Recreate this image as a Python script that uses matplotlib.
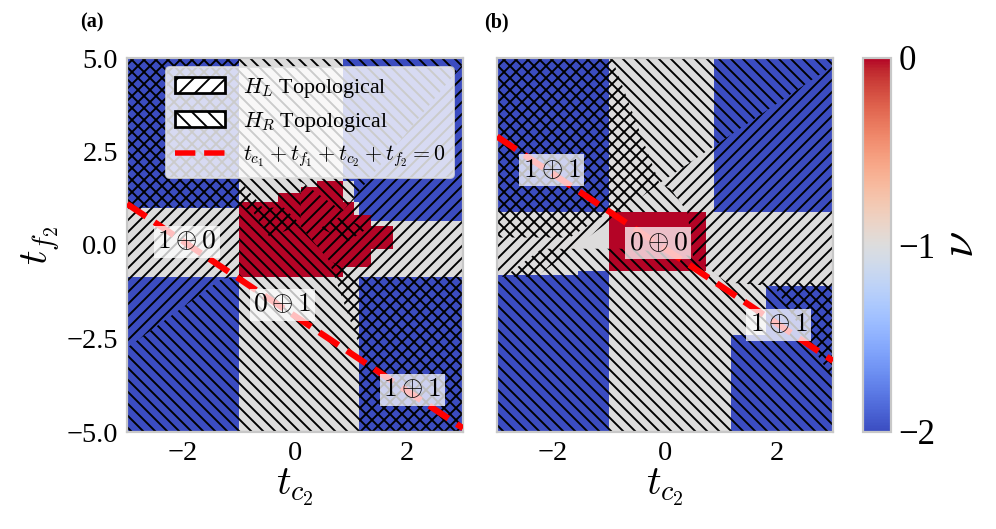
import numpy as np
import matplotlib
matplotlib.use("Agg")
import matplotlib.pyplot as plt
from matplotlib.patches import Polygon, Patch
from matplotlib.lines import Line2D
from matplotlib.colors import Normalize

DPI = 144
K = 132 / DPI   # keeps text/line pixel sizes constant


def pt(v):
    return v * K


plt.rcParams.update({
    "font.family": ["Liberation Serif", "DejaVu Serif"],
    "mathtext.fontset": "cm",
    "hatch.linewidth": 0.95,
    "hatch.color": "black",
})

# ---------------- data ----------------
NU = {"B": -2.0, "G": -1.0, "R": 0.0}   # winding number nu per cell letter

# panel (a): nu on a non-uniform grid (rows listed top -> bottom)
a_x_edges = [-3, -1, -0.3, 0.1, 0.4, 0.85, 1.05, 1.15, 1.35, 1.75, 3]
a_y_edges = [-5, -0.85, -0.6, -0.1, 0.5, 0.65, 0.8, 1.0, 1.15, 1.4, 1.55, 1.7, 5]
a_rows = [
    "BGGGGBBBBB",
    "BGGGRGBBBB",
    "BGGRRGBBBB",
    "BGRRRGBBBB",
    "BRRRRRGBBB",
    "GRRRRRGBBB",
    "GRRRRRRRBB",
    "GRRRRRRRGG",
    "GRRRRRRRRG",
    "GRRRRRRRGG",
    "GRRRRGGGGG",
    "BGGGGGGBBB",
]

# panel (b)
b_x_edges = [-3, -1.55, -1, 0.73, 0.88, 1.18, 1.8, 3]
b_y_edges = [-5, -2.4, -1.1, -0.8, -0.7, 0.88, 5]
b_rows = [
    "BBGGBBB",
    "GGRGGGG",
    "GBGGGGG",
    "BBGGGGG",
    "BBGGGGB",
    "BBGGGBB",
]

# topological regions (polygons in (t_c2, t_f2))
a_HL = [
    [(-3, 5), (-1, 5), (-1, 1.75), (-0.55, 0.95), (-1, 0.95), (-1, -0.85), (-1.3, -0.9), (-3, -2.75)],
    [(0.1, 1.7), (0.85, 0.9), (3, 4.85), (3, -5), (1.15, -5), (1.15, -2.7), (0.6, -0.4), (0.1, 0.5)],
    [(-0.8, 1.0), (-0.2, 1.0), (0.1, 0.55), (-0.45, 0.2)],
]
a_HR = [
    [(-3, 5), (3, 5), (3, 4.85), (0.85, 0.9), (0.1, 1.7), (0.1, 0.5), (-1, 0.5), (-1, 1.0), (-3, 1.0)],
    [(-3, -5), (-3, -2.75), (-1.3, -0.9), (-1, -0.85), (-1, 0.5), (0.1, 0.5), (0.6, -0.4),
     (1.15, -0.85), (3, -0.85), (3, -5)],
    [(0.45, 0.45), (0.95, 0.1), (1.3, 0.45), (0.8, 0.75)],
]
b_HL = [
    [(-3, 5), (-0.95, 5), (-0.1, 1.65), (-2.3, -0.85), (-3, -0.85)],
    [(-0.1, 1.65), (3, 4.8), (3, -3.6), (1.95, -1.1), (1.1, -1.0), (0.5, -0.3), (0.4, 0.88), (0.1, 1.5)],
]
b_HR = [
    [(-3, 5), (3, 5), (3, 4.8), (-0.1, 1.65), (0.1, 1.5), (0.4, 0.88), (-1.0, 0.88), (-1.7, 0.2), (-3, 0.2)],
    [(-3, -5), (-3, -1.0), (-2.2, -0.1), (-0.6, -0.1), (0.5, -0.3), (1.1, -1.0), (3, -1.0), (3, -5)],
]

# t_c1 + t_f1 for the dashed line t_c1+t_f1+t_c2+t_f2 = 0
a_tc1_tf1 = 1.9
b_tc1_tf1 = 0.1
line_tc2 = [-3, 3]

a_labels = [(-1.93, 0.08, r"$1\oplus0$"), (-0.23, -1.6, r"$0\oplus1$"), (2.1, -3.88, r"$1\oplus1$")]
b_labels = [(-2.02, 2.0, r"$1\oplus1$"), (-0.12, 0.05, r"$0\oplus0$"), (2.03, -2.14, r"$1\oplus1$")]

xticks = [-2, 0, 2]
yticks = [-5, -2.5, 0, 2.5, 5]
cbar_ticks = [0, -1, -2]

# ---------------- plot ----------------
W, H = 996, 529
fig = plt.figure(figsize=(W / DPI, H / DPI), dpi=DPI)
ax_a = fig.add_axes([127 / W, 97 / H, 336 / W, 374 / H])
ax_b = fig.add_axes([497 / W, 97 / H, 336 / W, 374 / H])
cax = fig.add_axes([863 / W, 97 / H, 28 / W, 374 / H])

cmap = plt.get_cmap("coolwarm")
norm = Normalize(-2, 0)
spine_col = "#c8c8c8"
HATCH_L = "////"
HATCH_R = "\\\\\\\\"


def field(rows):
    return np.array([[NU[c] for c in r] for r in rows[::-1]])


mesh = None
for ax, xe, ye, rows, HL, HR, s, labels in [
    (ax_a, a_x_edges, a_y_edges, a_rows, a_HL, a_HR, a_tc1_tf1, a_labels),
    (ax_b, b_x_edges, b_y_edges, b_rows, b_HL, b_HR, b_tc1_tf1, b_labels),
]:
    mesh = ax.pcolormesh(xe, ye, field(rows), cmap=cmap, norm=norm, shading="flat", zorder=1)
    for verts in HL:
        ax.add_patch(Polygon(verts, closed=True, facecolor="none", edgecolor="black",
                             lw=0, hatch=HATCH_L, zorder=2))
    for verts in HR:
        ax.add_patch(Polygon(verts, closed=True, facecolor="none", edgecolor="black",
                             lw=0, hatch=HATCH_R, zorder=2))
    xs = np.array(line_tc2, dtype=float)
    ax.plot(xs, -xs - s, color="red", ls="--", lw=pt(3.4), zorder=4)
    for tx, ty, txt in labels:
        ax.text(tx, ty, txt, ha="center", va="center", fontsize=pt(15), zorder=6,
                bbox=dict(boxstyle="square,pad=0.12", fc="white", ec="none", alpha=0.75))
    ax.set_xlim(-3, 3)
    ax.set_ylim(-5, 5)
    ax.set_xticks(xticks)
    ax.set_yticks(yticks)
    ax.tick_params(length=0, labelsize=pt(15.5), pad=pt(5))
    for sp in ax.spines.values():
        sp.set_edgecolor(spine_col)
        sp.set_linewidth(pt(1.2))
    ax.set_xlabel(r"$t_{c_2}$", fontsize=pt(22), labelpad=0)

ax_b.tick_params(labelleft=False)
ax_a.set_ylabel(r"$t_{f_2}$", fontsize=pt(22), labelpad=pt(2))

handles = [
    Patch(facecolor="white", edgecolor="black", hatch="///", lw=pt(1.5)),
    Patch(facecolor="white", edgecolor="black", hatch="\\\\\\", lw=pt(1.5)),
    Line2D([], [], color="red", ls="--", lw=pt(3)),
]
leg_labels = [r"$H_L$ Topological", r"$H_R$ Topological", r"$t_{c_1}+t_{f_1}+t_{c_2}+t_{f_2}=0$"]
leg = ax_a.legend(handles, leg_labels, loc="upper right", fontsize=pt(12), framealpha=0.8,
                  fancybox=True, handlelength=2.3, borderaxespad=0.4, labelspacing=0.45)
leg.get_frame().set_edgecolor("#dddddd")
leg.set_zorder(7)

cb = fig.colorbar(mesh, cax=cax, ticks=cbar_ticks)
cb.ax.tick_params(length=0, labelsize=pt(19), pad=pt(4))
cb.outline.set_edgecolor(spine_col)
cb.outline.set_linewidth(pt(1.2))
cb.set_label(r"$\nu$", fontsize=pt(26), labelpad=pt(2))

fig.text(80 / W, 1 - 22 / H, "(a)", fontsize=pt(11), fontweight="bold", va="center")
fig.text(484 / W, 1 - 22 / H, "(b)", fontsize=pt(11), fontweight="bold", va="center")

fig.savefig("out.png", dpi=DPI)
